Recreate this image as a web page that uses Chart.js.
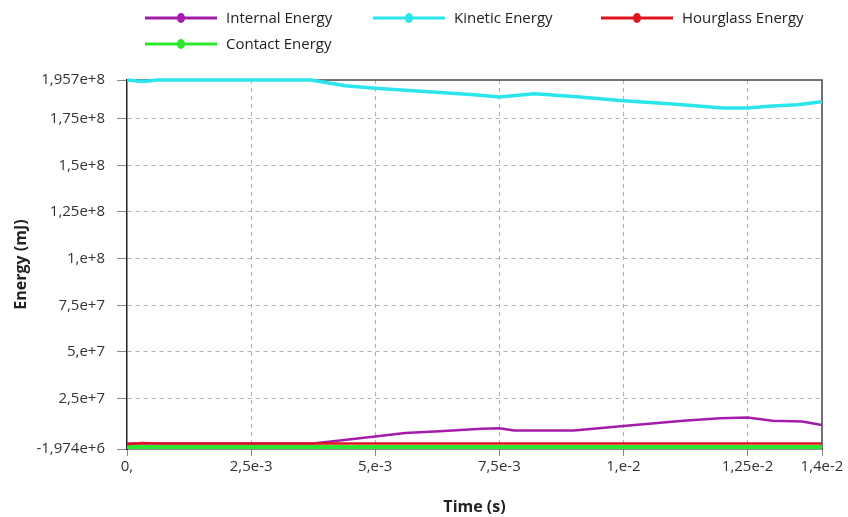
<!DOCTYPE html>
<html>
<head>
<meta charset="utf-8">
<script src="https://cdn.jsdelivr.net/npm/chart.js@4"></script>
<style>
body{margin:0;background:#fff;}
#wrap{width:848px;height:517px;}
</style>
</head>
<body>
<div id="wrap"><canvas id="myChart" width="848" height="517"></canvas></div>
<script>
// series names and colours
const seriesNames = ["Internal Energy", "Kinetic Energy", "Hourglass Energy", "Contact Energy"]
const seriesColors = ["#a41caa", "#2ae6ea", "#dd1520", "#2ee62e"]

// time (s) / energy (mJ)
const internalTime = [0, 0.0037, 0.00375, 0.0042, 0.0050, 0.0056, 0.0063, 0.00715, 0.0075, 0.0078, 0.0090, 0.0100, 0.0112, 0.01195, 0.0125, 0.0130, 0.0136, 0.0140]
const internalEnergy = [1.0e6, 1.0e6, 1.0e6, 2.3e6, 4.7e6, 6.6e6, 7.6e6, 8.9e6, 9.1e6, 7.9e6, 7.9e6, 10.4e6, 13.2e6, 14.5e6, 14.9e6, 13.2e6, 12.8e6, 10.9e6]

const kineticTime = [0, 0.0002, 0.0004, 0.0006, 0.0037, 0.0044, 0.0050, 0.0060, 0.0070, 0.0075, 0.0082, 0.0090, 0.0100, 0.0110, 0.0120, 0.0125, 0.0130, 0.0135, 0.0140]
const kineticEnergy = [195.7e6, 195.2e6, 195.0e6, 195.7e6, 195.7e6, 192.6e6, 191.3e6, 189.5e6, 187.8e6, 186.6e6, 188.3e6, 186.8e6, 184.6e6, 182.8e6, 180.7e6, 180.7e6, 181.8e6, 182.4e6, 184.1e6]

const hourglassTime = [0, 0.0003, 0.0006, 0.0140]
const hourglassEnergy = [0.6e6, 1.3e6, 1.0e6, 1.0e6]

const contactTime = [0, 0.0140]
const contactEnergy = [-0.9e6, -0.9e6]

// axis ticks
const yTicks = [-1.974e6, 2.5e7, 5e7, 7.5e7, 1e8, 1.25e8, 1.5e8, 1.75e8, 1.957e8]
const yTickLabels = ["-1,974e+6", "2,5e+7", "5,e+7", "7,5e+7", "1,e+8", "1,25e+8", "1,5e+8", "1,75e+8", "1,957e+8"]
const xTicks = [0, 0.0025, 0.005, 0.0075, 0.01, 0.0125, 0.014]
const xTickLabels = ["0,", "2,5e-3", "5,e-3", "7,5e-3", "1,e-2", "1,25e-2", "1,4e-2"]

function pts(t, v){
  return t.map((x,i)=>({x:x, y:v[i]}))
}

const legendPlugin = {
  id: "sideLegend",
  afterDraw(chart){
    const ctx = chart.ctx
    const spots = [[145,18],[373,18],[601,18],[145,44]]
    ctx.save()
    for(let i=0;i<seriesNames.length;i++){
      const x = spots[i][0], y = spots[i][1]
      ctx.strokeStyle = seriesColors[i]
      ctx.lineWidth = 3
      ctx.beginPath(); ctx.moveTo(x,y); ctx.lineTo(x+72,y); ctx.stroke()
      ctx.fillStyle = seriesColors[i]
      ctx.beginPath(); ctx.ellipse(x+36,y,4,5,0,0,Math.PI*2); ctx.fill()
      ctx.fillStyle = "#222"
      ctx.font = "15px 'Open Sans'"
      ctx.textBaseline = "middle"
      ctx.fillText(seriesNames[i], x+81, y+1)
    }
    ctx.restore()
  }
}

const framePlugin = {
  id: "frame",
  beforeDatasetsDraw(chart){
    const a = chart.chartArea, ctx = chart.ctx
    ctx.save()
    ctx.strokeStyle = "#444"
    ctx.lineWidth = 1.5
    ctx.beginPath()
    ctx.moveTo(a.left, a.top); ctx.lineTo(a.right, a.top); ctx.lineTo(a.right, a.bottom)
    ctx.stroke()
    ctx.restore()
  }
}

const widths = [2.5, 3.5, 2.5, 4]
const drawOrder = [1, 1, 0, 2]   // red on top of the flat purple start
const allData = [pts(internalTime, internalEnergy), pts(kineticTime, kineticEnergy), pts(hourglassTime, hourglassEnergy), pts(contactTime, contactEnergy)]

const ctx = document.getElementById("myChart")
new Chart(ctx, {
  type: "line",
  data: {
    datasets: seriesNames.map((n,i)=>({
      label: n,
      data: allData[i],
      borderColor: seriesColors[i],
      backgroundColor: seriesColors[i],
      borderWidth: widths[i],
      order: drawOrder[i],
      pointRadius: 0,
      tension: 0,
      clip: false
    }))
  },
  options: {
    responsive: false,
    animation: false,
    layout: { padding: { top: 80, right: 26, left: 0, bottom: 0 } },
    plugins: { legend: { display: false }, tooltip: { enabled: false } },
    scales: {
      x: {
        type: "linear",
        min: 0, max: 0.014,
        afterFit(s){ s.height = 68 },
        afterBuildTicks(s){ s.ticks = xTicks.map(v=>({value:v})) },
        ticks: {
          autoSkip: false, maxRotation: 0, padding: 2,
          color: "#333", font: { family: "Open Sans", size: 15 },
          callback: (v,i)=>xTickLabels[i]
        },
        grid: {
          color: c => (c.tick && (c.tick.value === 0 || c.tick.value === 0.014)) ? "rgba(0,0,0,0)" : "#b0b0b0",
          tickColor: "#888", tickLength: 7, tickBorderDash: []
        },
        border: { color: "#222", width: 1.5, dash: [4,4] },
        title: {
          display: true, text: "Time (s)", color: "#222",
          font: { family: "Open Sans", size: 16, weight: "bold" },
          padding: { top: 0, bottom: 0 }
        }
      },
      y: {
        min: -1.974e6, max: 1.957e8,
        afterFit(s){ s.width = 127 },
        afterBuildTicks(s){ s.ticks = yTicks.map(v=>({value:v})) },
        ticks: {
          autoSkip: false, padding: 12,
          color: "#333", font: { family: "Open Sans", size: 15 },
          callback: (v,i)=>yTickLabels[i]
        },
        grid: {
          color: c => (c.tick && (c.tick.value === -1.974e6 || c.tick.value === 1.957e8)) ? "rgba(0,0,0,0)" : "#b0b0b0",
          tickColor: "#888", tickLength: 10, tickBorderDash: []
        },
        border: { color: "#222", width: 1.5, dash: [4,4] },
        title: {
          display: true, text: "Energy (mJ)", color: "#222",
          font: { family: "Open Sans", size: 16, weight: "bold" },
          padding: { top: 12, bottom: 0 }
        }
      }
    }
  },
  plugins: [framePlugin, legendPlugin]
})
</script>
</body>
</html>
